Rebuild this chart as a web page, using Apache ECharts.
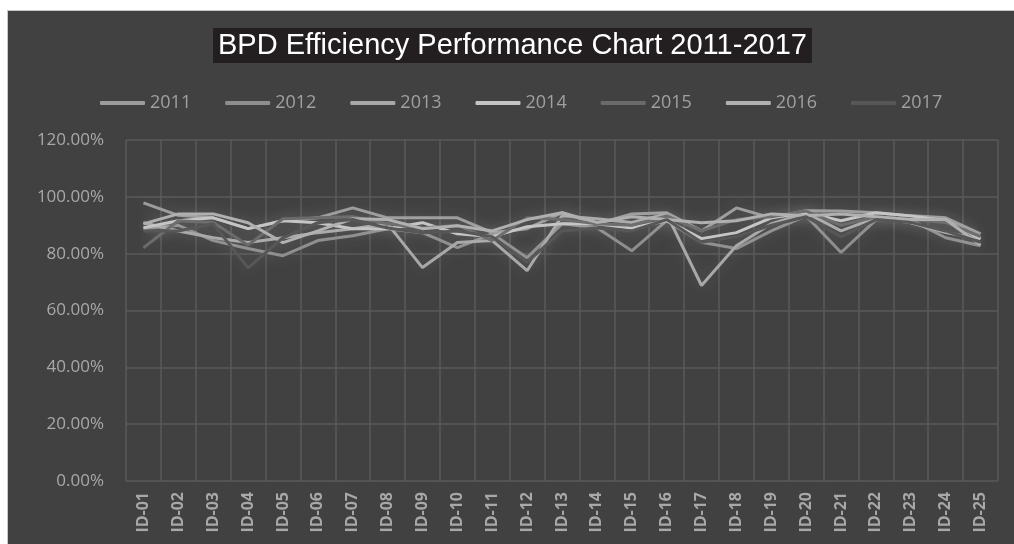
<!DOCTYPE html>
<html>
<head>
<meta charset="utf-8">
<script src="https://cdn.jsdelivr.net/npm/echarts@6/dist/echarts.min.js"></script>
<style>
  html, body { margin: 0; padding: 0; background: #ffffff; }
  #chart {
    position: absolute;
    left: 7px;
    top: 10px;
    width: 1007px;
    height: 534px;
    background: #414141;
    border-left: 1px solid #c8c8c8;
    border-top: 1px solid #c8c8c8;
    box-sizing: border-box;
  }
</style>
</head>
<body>
<div id="chart"></div>
<script>
// categories
var ids = ['ID-01', 'ID-02', 'ID-03', 'ID-04', 'ID-05', 'ID-06', 'ID-07', 'ID-08', 'ID-09', 'ID-10',
  'ID-11', 'ID-12', 'ID-13', 'ID-14', 'ID-15', 'ID-16', 'ID-17', 'ID-18', 'ID-19', 'ID-20',
  'ID-21', 'ID-22', 'ID-23', 'ID-24', 'ID-25']
var years = ['2011', '2012', '2013', '2014', '2015', '2016', '2017']

// efficiency in percent
var y2011 = [97.9, 93.5, 92.6, 88.8, 91.6, 92.6, 96.1, 92.6, 92.6, 92.6, 87.4, 88.8, 94.4, 90.5, 94.0, 94.4, 88.0, 96.1, 92.6, 95.1, 95.0, 94.4, 93.3, 92.6, 87.0]
var y2012 = [88.8, 90.0, 84.6, 81.8, 79.3, 84.6, 86.3, 88.8, 87.4, 82.1, 87.0, 78.6, 90.5, 89.1, 81.0, 91.6, 84.0, 81.8, 88.0, 93.3, 80.4, 91.9, 91.9, 85.6, 82.8]
var y2013 = [90.9, 88.0, 85.6, 83.9, 85.6, 87.4, 88.8, 90.5, 75.1, 83.9, 84.6, 74.0, 93.3, 92.3, 91.0, 94.0, 68.8, 82.8, 90.5, 94.4, 88.0, 92.6, 90.9, 87.4, 85.3]
var y2014 = [89.1, 91.6, 92.6, 88.8, 91.6, 90.9, 88.8, 88.8, 90.9, 87.0, 86.0, 89.5, 90.5, 90.5, 89.0, 91.6, 85.3, 87.4, 92.6, 94.4, 91.6, 94.4, 93.3, 91.6, 85.3]
var y2015 = [82.1, 91.6, 91.0, 83.0, 92.3, 92.6, 93.0, 90.5, 89.0, 90.0, 84.6, 92.6, 92.0, 90.5, 90.0, 93.3, 88.0, 92.0, 93.0, 95.0, 90.0, 93.0, 92.0, 91.0, 86.0]
var y2016 = [90.5, 94.0, 94.0, 90.9, 83.9, 88.0, 92.3, 92.0, 88.8, 89.8, 88.0, 92.0, 94.4, 91.0, 93.0, 92.0, 90.9, 91.6, 94.0, 93.3, 94.0, 93.0, 92.0, 92.0, 83.0]
var y2017 = [88.0, 88.0, 90.5, 75.0, 85.6, 90.9, 92.0, 89.0, 87.4, 88.0, 86.0, 77.0, 88.0, 89.0, 88.0, 92.0, 84.0, 86.0, 90.0, 93.0, 86.0, 92.0, 91.0, 88.0, 84.0]

var yTicks = { min: 0, max: 120, step: 20 }

var allData = [y2011, y2012, y2013, y2014, y2015, y2016, y2017]
var colors = ['#9c9c9c', '#8e8e8e', '#a8a8a8', '#c4c4c4', '#6a6a6a', '#b0b0b0', '#575757']

var chart = echarts.init(document.getElementById('chart'))

var series = []
for (var i = 0; i < years.length; i++) {
  series.push({
    name: years[i],
    type: 'line',
    data: allData[i],
    symbol: 'none',
    lineStyle: {
      width: 3,
      color: colors[i],
      shadowBlur: 16,
      shadowColor: 'rgba(255,255,255,0.16)'
    },
    itemStyle: { color: colors[i] }
  })
}

chart.setOption({
  animation: false,
  title: {
    text: 'BPD Efficiency Performance Chart 2011-2017',
    left: 205,
    top: 17,
    padding: [3, 5, 3, 5],
    backgroundColor: '#231f20',
    textStyle: {
      fontFamily: 'Liberation Sans',
      fontWeight: 'normal',
      fontSize: 29,
      color: '#ffffff'
    }
  },
  legend: {
    data: years,
    left: 87,
    top: 78,
    icon: 'roundRect',
    itemWidth: 45,
    itemHeight: 4,
    itemGap: 34,
    textStyle: {
      fontFamily: 'Open Sans',
      fontSize: 18,
      color: '#a0a0a0'
    }
  },
  grid: {
    left: 118,
    right: 16,
    top: 129,
    bottom: 63
  },
  xAxis: {
    type: 'category',
    data: ids,
    boundaryGap: true,
    axisLine: { show: false },
    axisTick: { show: false },
    axisLabel: {
      rotate: 90,
      margin: 11,
      fontFamily: 'Open Sans',
      fontWeight: 'bold',
      fontSize: 16,
      color: '#a8a8a8'
    },
    splitLine: {
      show: true,
      lineStyle: { color: '#5a5a5a', width: 1.5 }
    }
  },
  yAxis: {
    type: 'value',
    min: yTicks.min,
    max: yTicks.max,
    interval: yTicks.step,
    axisLine: { show: false },
    axisTick: { show: false },
    axisLabel: {
      margin: 22,
      fontFamily: 'Open Sans',
      fontSize: 17,
      color: '#a8a8a8',
      formatter: function (v) { return v.toFixed(2) + '%' }
    },
    splitLine: {
      lineStyle: { color: '#5a5a5a', width: 1.5 }
    }
  },
  series: series
})
</script>
</body>
</html>
